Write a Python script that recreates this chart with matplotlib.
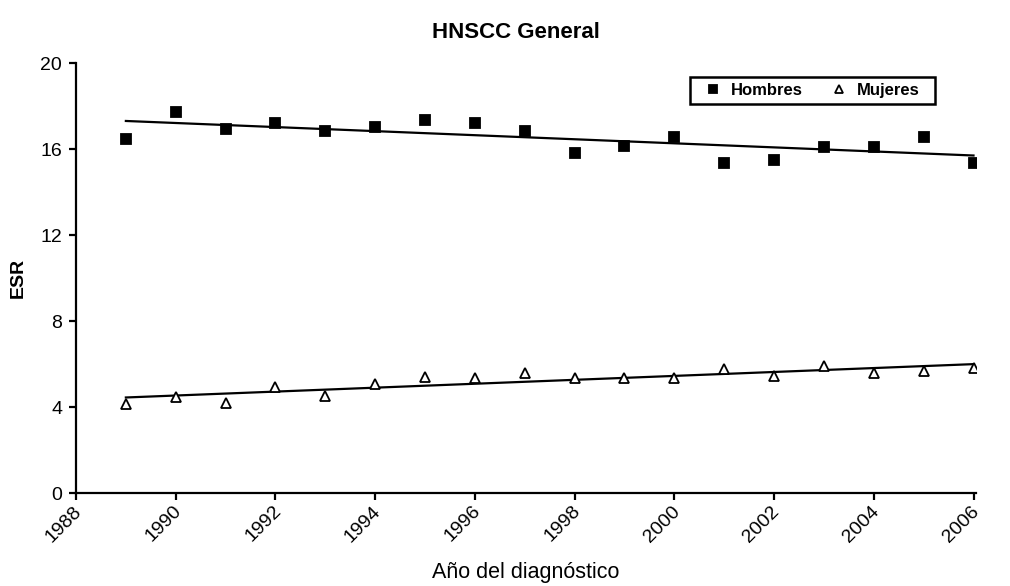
import numpy as np
import matplotlib
matplotlib.use("Agg")
import matplotlib.pyplot as plt
from matplotlib.patches import Rectangle
from matplotlib.transforms import ScaledTranslation

plt.rcParams['font.family'] = ['Liberation Sans', 'DejaVu Sans']

# Age-standardised rates (ESR) per year of diagnosis
years = [1989, 1990, 1991, 1992, 1993, 1994, 1995, 1996, 1997,
         1998, 1999, 2000, 2001, 2002, 2003, 2004, 2005, 2006]
hombres = [16.47, 17.72, 16.93, 17.20, 16.84, 17.02, 17.35, 17.20, 16.84,
           15.81, 16.14, 16.56, 15.35, 15.49, 16.09, 16.09, 16.56, 15.35]
mujeres = [4.14, 4.47, 4.19, 4.93, 4.51, 5.07, 5.40, 5.35, 5.60,
           5.35, 5.36, 5.35, 5.77, 5.44, 5.91, 5.60, 5.69, 5.80]

x_ticks = list(range(1988, 2007, 2))
y_ticks = [0, 4, 8, 12, 16, 20]

title = "HNSCC General"
x_label = "Año del diagnóstico"
y_label = "ESR"

W, H = 1010, 586
fig = plt.figure(figsize=(W / 100, H / 100), dpi=100)
ax = fig.add_axes([76 / W, 1 - 493 / H, 900 / W, 430 / H])

yrs = np.array(years, dtype=float)
for vals, marker, face, name in [
    (hombres, 's', 'black', 'Hombres'),
    (mujeres, '^', 'white', 'Mujeres'),
]:
    ax.plot(yrs, vals, linestyle='none', marker=marker, markersize=7.2,
            markerfacecolor=face, markeredgecolor='black',
            markeredgewidth=1.3, label=name, zorder=3)
    # linear trend
    slope, icpt = np.polyfit(yrs, vals, 1)
    xs = np.array([yrs.min(), yrs.max()])
    ax.plot(xs, slope * xs + icpt, color='black', linewidth=1.6, zorder=2)

ax.set_xlim(1988, 2006.05)
ax.set_ylim(0, 20)
ax.set_xticks(x_ticks)
ax.set_yticks(y_ticks)

for side in ('top', 'right'):
    ax.spines[side].set_visible(False)
for side in ('left', 'bottom'):
    ax.spines[side].set_linewidth(1.6)

ax.tick_params(axis='both', direction='out', length=5, width=1.6,
               color='black')
ax.tick_params(axis='y', labelsize=14, pad=5)
ax.tick_params(axis='x', labelsize=14, pad=2)

offset = ScaledTranslation(-3 / 100, 0, fig.dpi_scale_trans)
for lbl in ax.get_xticklabels():
    lbl.set_rotation(45)
    lbl.set_ha('right')
    lbl.set_va('top')
    lbl.set_rotation_mode('anchor')
    lbl.set_transform(lbl.get_transform() + offset)

ax.set_xlabel(x_label, fontsize=15.5)
ax.xaxis.set_label_coords(0.5, -0.185)
ax.xaxis.label.set_va('center')
ax.set_ylabel(y_label, fontsize=14, fontweight='bold', labelpad=10)
fig.text(516 / W, 1 - 32 / H, title, fontsize=16, fontweight='bold',
         ha='center', va='center')

# legend entries, framed by a plain black box
leg = ax.legend(loc='center left', bbox_to_anchor=(0.689, 0.936), ncol=2,
                frameon=False, borderpad=0.0, handletextpad=0.6,
                columnspacing=1.65, handlelength=1.0, markerscale=0.85,
                prop={'size': 12, 'weight': 'bold'})
fig.patches.append(Rectangle((690 / W, 1 - 104 / H), 245 / W, 27 / H,
                             transform=fig.transFigure, fill=False,
                             edgecolor='black', linewidth=1.8))

fig.savefig("out.png", dpi=100)
